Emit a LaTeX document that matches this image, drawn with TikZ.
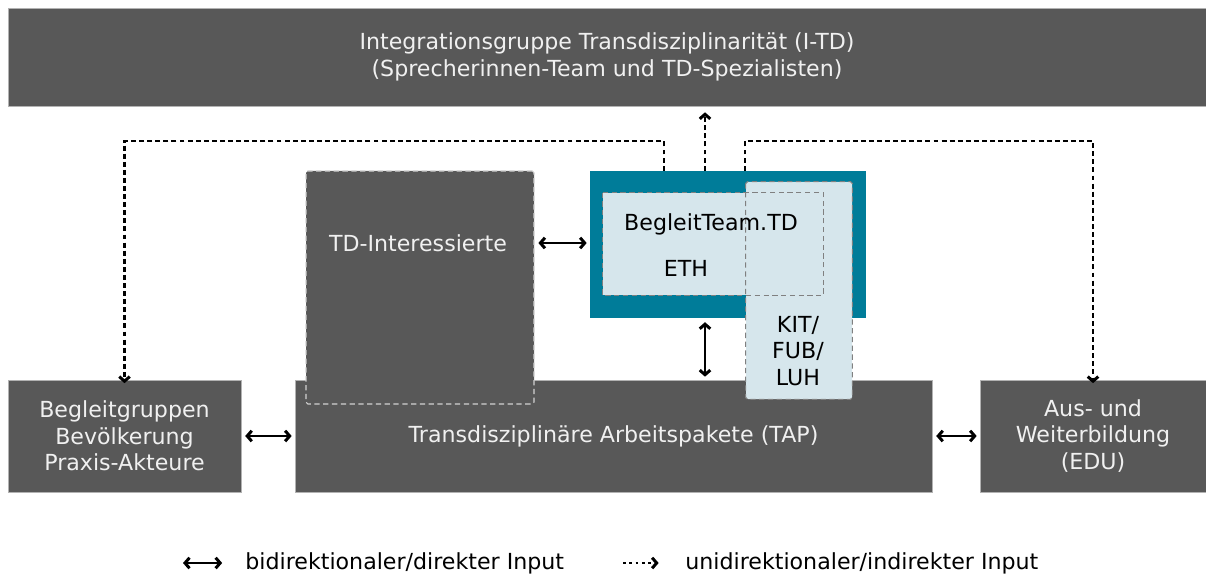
\documentclass[tikz,border=0pt]{standalone}
\usepackage{fontspec}
\setmainfont{DejaVu Sans}
\usetikzlibrary{arrows.meta,fit}

\definecolor{boxgrey}{RGB}{88,88,88}
\definecolor{teamteal}{RGB}{0,124,153}
\definecolor{teamblue}{RGB}{214,230,236}

\tikzset{
  greybox/.style={fill=boxgrey, draw=gray!60, line width=0.4pt, inner sep=0pt},
  bluebox/.style={fill=teamblue, inner sep=0pt},
  boxtext/.style={text=white!94!black, align=center},
  dashframe/.style={draw=gray, line width=0.6pt, dash pattern=on 3pt off 2pt},
  direct/.style={{Straight Barb[length=2.6pt,width=6pt,line width=1.7pt]}-{Straight Barb[length=2.6pt,width=6pt,line width=1.7pt]},
    line width=1.25pt},
  indirect/.style={-{Straight Barb[length=2.6pt,width=6pt,line width=1.7pt]}, line width=1.5pt,
    dash pattern=on 2.8pt off 1.8pt},
}

\begin{document}
\begin{tikzpicture}[x=0.02cm, y=-0.02cm, font=\fontsize{12.6}{15}\selectfont]
	
	\useasboundingbox (0,0) rectangle (1206,577);
	
	% Kaesten oben und unten
	\node[greybox, fit={(8,8) (1206,106)}] (itd) {};
	\node[greybox, fit={(295,380) (932,492)}] (tap) {};
	\node[greybox, fit={(8,380) (241,492)}] (begl) {};
	\node[greybox, fit={(980,380) (1206,492)}] (edu) {};
	\node[boxtext] (itdtext) at (itd.center)
	{Integrationsgruppe Transdisziplinarität (I-TD)\\(Sprecherinnen-Team und TD-Spezialisten)};
	\node[boxtext] (taptext) at (tap.center) {Transdisziplinäre Arbeitspakete (TAP)};
	\node[boxtext] (begltext) at (begl.center) {Begleitgruppen\\Bevölkerung\\Praxis-Akteure};
	\node[boxtext] (edutext) at (edu.center) {Aus- und\\Weiterbildung\\(EDU)};
	
	% TD-Interessierte
	\node[greybox, draw=gray!35, line width=0.6pt, dash pattern=on 3pt off 2pt,
	rounded corners=1pt, fit={(306,171) (534,404)}] (tdi) {};
	\node[boxtext] (tdtext) at (418,243) {TD-Interessierte};
	
	% BegleitTeam.TD
	\node[fill=teamteal, inner sep=0pt, fit={(590,171) (866,318)}] (team) {};
	\node[bluebox, rounded corners=1pt, fit={(746,182) (852,399)}] (kit) {};
	\node[bluebox, fit={(603,193) (823,295)}] (eth) {};
	\draw[dashframe, rounded corners=1pt] (kit.north west) rectangle (kit.south east);
	\draw[dashframe] (eth.north west) rectangle (eth.south east);
	\node (teamtext) at (711,224) {BegleitTeam.TD};
	\node (ethtext) at (686,268) {ETH};
	\node[align=center] (kittext) at (798,351) {KIT/\\FUB/\\LUH};
	
	% Verbindungen
	\coordinate (tl) at (664,141);
	\coordinate (tr) at (745,141);
	\coordinate (up) at (705,141);
	\draw[indirect] (tl |- team.north) -- (tl) -| ([yshift=-2pt]begl.north);
	\draw[indirect] (tr |- team.north) -- (tr) -| ([yshift=-2pt]edu.north);
	\draw[indirect, shorten >=3.4pt] (up |- team.north) -- (up |- itd.south);
	\draw[direct, shorten <=2.2pt, shorten >=1.7pt] (up |- team.south) -- (up |- tap.north);
	\draw[direct, shorten <=2.2pt, shorten >=1.7pt] (tdtext -| tdi.east) -- (tdtext -| team.west);
	\draw[direct, shorten <=2.2pt, shorten >=1.7pt] (begl.east) -- (begl.east -| tap.west);
	\draw[direct, shorten <=2.2pt, shorten >=1.7pt] (tap.east |- edu.west) -- (edu.west);
	
	% Legende
	\node[anchor=west, inner sep=0pt] (legdirect) at (245,563) {bidirektionaler/direkter Input};
	\node[anchor=west, inner sep=0pt] (legindirect) at (685,563) {unidirektionaler/indirekter Input};
	\coordinate (ld) at (183,563);
	\coordinate (li) at (623,563);
	\draw[direct] (ld) -- ([xshift=-13]legdirect.west);
	\draw[indirect, dash pattern=on 1.6pt off 2pt] (li) -- ([xshift=-15]legindirect.west);
	
\end{tikzpicture}
\end{document}
